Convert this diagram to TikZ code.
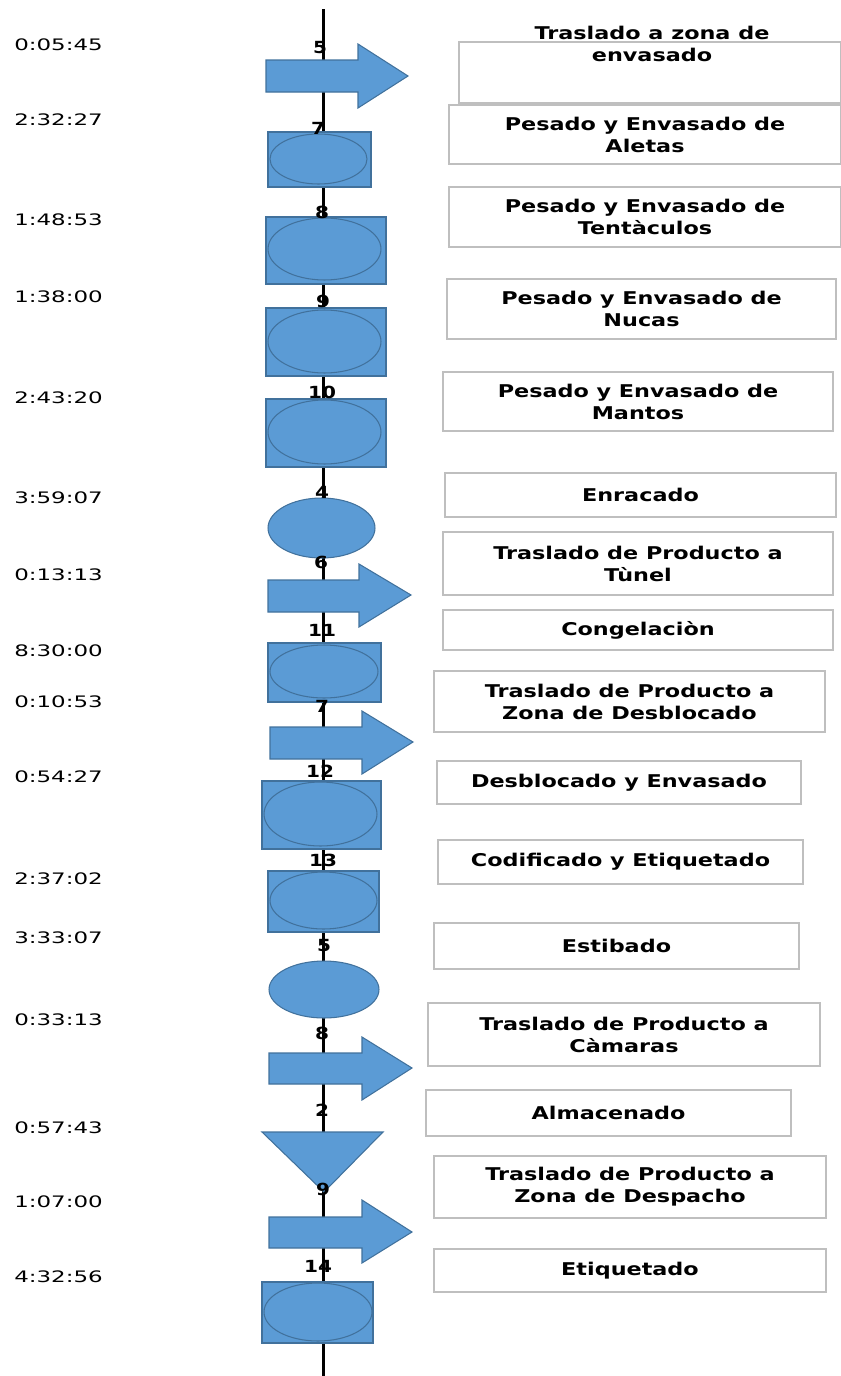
\documentclass[tikz,border=0pt]{standalone}
\usepackage{fontspec}
\setmainfont{DejaVu Sans}
\newfontfamily\boxfont[FakeStretch=1.27]{DejaVu Sans}
\newfontfamily\timefont[FakeStretch=1.45]{DejaVu Sans}
\newfontfamily\numfont[FakeStretch=1.2]{DejaVu Sans}
\usepackage{xcolor}
\usepackage{tikz}
\usetikzlibrary{shapes.geometric}
\definecolor{opblue}{HTML}{5B9BD5}
\definecolor{opedge}{HTML}{41719C}
\definecolor{boxgray}{HTML}{BFBFBF}
\tikzset{
  every picture/.style = {
    x = 0.02cm,
    y = -0.02cm,
  }
  ,
  flow line/.style = {
    draw = black,
    line width = 1.7pt
  }
  , % blue symbols of the chart
  op-fill/.style = {
    fill = opblue,
    draw = opedge,
    line width = 0.6pt
  }
  ,
  op-rect/.style = {
    rectangle,
    op-fill,
    inner sep = 0pt
  }
  ,
  op-oval/.style = {
    ellipse,
    op-fill,
    inner sep = 0pt
  }
  , % numbers on the line
  num/.style = {
    font = \numfont\bfseries\fontsize{9.5}{11}\selectfont,
    inner sep = 0pt
  }
  , % times on the left
  time/.style = {
    anchor = west,
    font = \timefont\fontsize{9}{11}\selectfont,
    inner sep = 0pt
  }
  , % activity boxes
  tbox/.style = {
    rectangle,
    draw = boxgray,
    line width = 1.1pt,
    fill = white,
    inner sep = 0pt,
    align = center,
    font = \boxfont\bfseries\fontsize{10}{12.5}\selectfont
  }
  ,
  btext/.style = {
    align = center,
    inner sep = 0pt,
    font = \boxfont\bfseries\fontsize{10}{12.5}\selectfont
  }
}
\begin{document}
\begin{tikzpicture}
  \useasboundingbox (0,0) rectangle (840,1376);
  \coordinate (top) at (323.5,9);
  \coordinate (bot) at (323.5,1380);
  \draw[flow line] (top) -- (bot);

  % transport arrows
  \filldraw[op-fill] (266,60) -- (358,60) -- (358,44) -- (408,76) -- (358,108) -- (358,92) -- (266,92) -- cycle;
  \filldraw[op-fill] (268,580) -- (359,580) -- (359,564) -- (411,595) -- (359,627) -- (359,612) -- (268,612) -- cycle;
  \filldraw[op-fill] (270,727) -- (362,727) -- (362,711) -- (413,742) -- (362,774) -- (362,759) -- (270,759) -- cycle;
  \filldraw[op-fill] (269,1053) -- (362,1053) -- (362,1037) -- (412,1068) -- (362,1100) -- (362,1084) -- (269,1084) -- cycle;
  \filldraw[op-fill] (269,1217) -- (362,1217) -- (362,1200) -- (412,1232) -- (362,1263) -- (362,1248) -- (269,1248) -- cycle;
  % storage
  \filldraw[op-fill] (262,1132) -- (383,1132) -- (324,1192) -- cycle;

  % combined operations
  \node[op-rect, minimum width=2.06cm, minimum height=1.10cm] at (319.5,159.5) (r7) {};
  \node[op-oval, minimum width=1.94cm, minimum height=1.00cm] at (318.5,159) (o7) {};
  \node[op-rect, minimum width=2.40cm, minimum height=1.34cm] at (326,250.5) (r8) {};
  \node[op-oval, minimum width=2.26cm, minimum height=1.24cm] at (324.5,249) (o8) {};
  \node[op-rect, minimum width=2.40cm, minimum height=1.36cm] at (326,342) (r9) {};
  \node[op-oval, minimum width=2.26cm, minimum height=1.26cm] at (324.5,341.5) (o9) {};
  \node[op-rect, minimum width=2.40cm, minimum height=1.36cm] at (326,433) (r10) {};
  \node[op-oval, minimum width=2.26cm, minimum height=1.28cm] at (324.5,432) (o10) {};
  \node[op-oval, minimum width=2.14cm, minimum height=1.20cm] at (321.5,528) (o4) {};
  \node[op-rect, minimum width=2.26cm, minimum height=1.18cm] at (324.5,672.5) (r11) {};
  \node[op-oval, minimum width=2.16cm, minimum height=1.06cm] at (324,671.5) (o11) {};
  \node[op-rect, minimum width=2.38cm, minimum height=1.36cm] at (321.5,815) (r12) {};
  \node[op-oval, minimum width=2.26cm, minimum height=1.28cm] at (320.5,814) (o12) {};
  \node[op-rect, minimum width=2.22cm, minimum height=1.22cm] at (323.5,901.5) (r13) {};
  \node[op-oval, minimum width=2.14cm, minimum height=1.14cm] at (323.5,900.5) (o13) {};
  \node[op-oval, minimum width=2.20cm, minimum height=1.14cm] at (324,989.5) (o5) {};
  \node[op-rect, minimum width=2.22cm, minimum height=1.22cm] at (317.5,1312.5) (r14) {};
  \node[op-oval, minimum width=2.16cm, minimum height=1.16cm] at (318,1312) (o14) {};

  % numbers
  \node[num] at (320,48) (n1) {5};
  \node[num] at (318,128) (n2) {7};
  \node[num] at (322,212) (n3) {8};
  \node[num] at (323,301) (n4) {9};
  \node[num] at (322,392) (n5) {10};
  \node[num] at (322,492) (n6) {4};
  \node[num] at (321,562) (n7) {6};
  \node[num] at (322,630) (n8) {11};
  \node[num] at (322,706) (n9) {7};
  \node[num] at (320,771) (n10) {12};
  \node[num] at (323,860) (n11) {13};
  \node[num] at (324,946) (n12) {5};
  \node[num] at (322,1033) (n13) {8};
  \node[num] at (322,1110) (n14) {2};
  \node[num] at (323,1189) (n15) {9};
  \node[num] at (318,1266) (n16) {14};

  % times
  \node[time] at (14,45) (t1) {0:05:45};
  \node[time] at (14,120) (t2) {2:32:27};
  \node[time] at (14,220) (t3) {1:48:53};
  \node[time] at (14,297) (t4) {1:38:00};
  \node[time] at (14,398) (t5) {2:43:20};
  \node[time] at (14,498) (t6) {3:59:07};
  \node[time] at (14,575) (t7) {0:13:13};
  \node[time] at (14,651) (t8) {8:30:00};
  \node[time] at (14,702) (t9) {0:10:53};
  \node[time] at (14,777) (t10) {0:54:27};
  \node[time] at (14,879) (t11) {2:37:02};
  \node[time] at (14,938) (t12) {3:33:07};
  \node[time] at (14,1020) (t13) {0:33:13};
  \node[time] at (14,1128) (t14) {0:57:43};
  \node[time] at (14,1202) (t15) {1:07:00};
  \node[time] at (14,1277) (t16) {4:32:56};

  % activities
  \node[tbox, minimum width=7.64cm, minimum height=1.22cm] at (650,72.5) (b1) {};
  \node[btext] at (652,43.5) (l1) {Traslado a zona de\\envasado};
  \node[tbox, minimum width=7.84cm, minimum height=1.18cm] at (645,134.5) (b2) {Pesado y Envasado de\\Aletas};
  \node[tbox, minimum width=7.84cm, minimum height=1.20cm] at (645,217) (b3) {Pesado y Envasado de\\Tentàculos};
  \node[tbox, minimum width=7.78cm, minimum height=1.20cm] at (641.5,309) (b4) {Pesado y Envasado de\\Nucas};
  \node[tbox, minimum width=7.80cm, minimum height=1.18cm] at (638,401.5) (b5) {Pesado y Envasado de\\Mantos};
  \node[tbox, minimum width=7.82cm, minimum height=0.88cm] at (640.5,495) (b6) {Enracado};
  \node[tbox, minimum width=7.80cm, minimum height=1.26cm] at (638,563.5) (b7) {Traslado de Producto a\\Tùnel};
  \node[tbox, minimum width=7.80cm, minimum height=0.80cm] at (638,630) (b8) {Congelaciòn};
  \node[tbox, minimum width=7.82cm, minimum height=1.22cm] at (629.5,701.5) (b9) {Traslado de Producto a\\Zona de Desblocado};
  \node[tbox, minimum width=7.28cm, minimum height=0.86cm] at (619,782.5) (b10) {Desblocado y Envasado};
  \node[tbox, minimum width=7.30cm, minimum height=0.88cm] at (620.5,862) (b11) {Codificado y Etiquetado};
  \node[tbox, minimum width=7.30cm, minimum height=0.92cm] at (616.5,946) (b12) {Estibado};
  \node[tbox, minimum width=7.84cm, minimum height=1.26cm] at (624,1034.5) (b13) {Traslado de Producto a\\Càmaras};
  \node[tbox, minimum width=7.30cm, minimum height=0.92cm] at (608.5,1113) (b14) {Almacenado};
  \node[tbox, minimum width=7.84cm, minimum height=1.24cm] at (630,1187) (b15) {Traslado de Producto a\\Zona de Despacho};
  \node[tbox, minimum width=7.84cm, minimum height=0.86cm] at (630,1270.5) (b16) {Etiquetado};
\end{tikzpicture}
\end{document}
